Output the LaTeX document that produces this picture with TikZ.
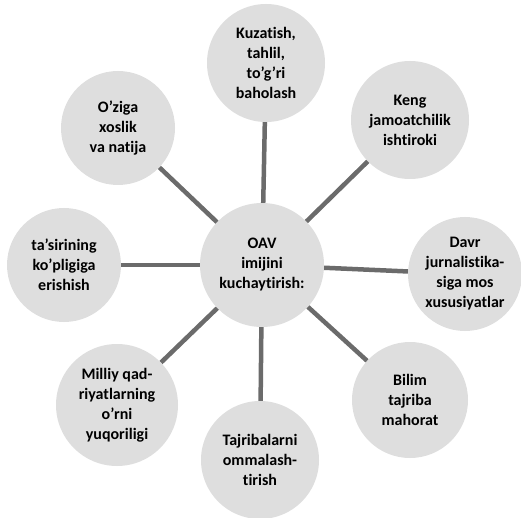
\documentclass[tikz,border=0pt]{standalone}
\usepackage{fontspec}
\setmainfont{Carlito}[Ligatures=NoCommon]
\begin{document}
\begin{tikzpicture}[x=1pt,y=-1pt,
  bub/.style={circle,fill=black!13,inner sep=0pt,align=center,
    font=\bfseries\fontsize{16}{20}\selectfont,text=black},
  link/.style={draw=black!58,line width=4.5pt}]
\useasboundingbox (0,0) rectangle (521,518);
\node[bub,minimum size=124pt] (c) at (262,265) {OAV\\imijini\\kuchaytirish:};
\node[bub,minimum size=118pt] (n1) at (266,63) {Kuzatish,\\tahlil,\\to’g’ri\\baholash};
\node[bub,minimum size=118pt] (n2) at (410,120) {Keng\\jamoatchilik\\ishtiroki};
\node[bub,minimum size=114pt] (n3) at (465,274) {Davr\\jurnalistika-\\siga mos\\xususiyatlar};
\node[bub,minimum size=116pt] (n4) at (410,400) {Bilim\\tajriba\\mahorat};
\node[bub,minimum size=118pt] (n5) at (260,460) {Tajribalarni\\ommalash-\\tirish};
\node[bub,minimum size=122pt] (n6) at (117,405) {Milliy qad-\\riyatlarning\\o’rni\\yuqoriligi};
\node[bub,minimum size=114pt] (n7) at (64,265) {ta’sirining\\ko’pligiga\\erishish};
\node[bub,minimum size=114pt] (n8) at (118,128) {O’ziga\\xoslik\\va natija};
\foreach \n in {n1,n2,n3,n4,n5,n6,n7,n8}
  \draw[link] (c) -- (\n);
\end{tikzpicture}
\end{document}
